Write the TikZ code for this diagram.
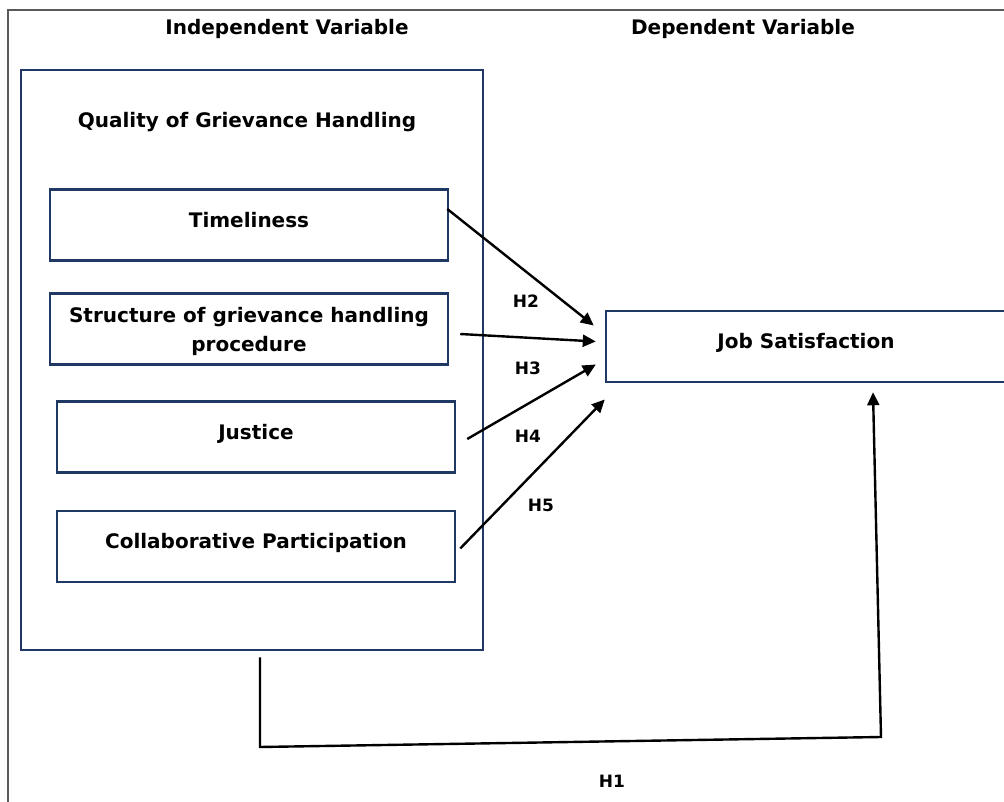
\documentclass[tikz,border=0pt]{standalone}
\usepackage{fontspec}
\setmainfont{DejaVu Sans}
\usetikzlibrary{arrows.meta, positioning, calc}
\definecolor{boxnavy}{HTML}{1F3864}
\definecolor{framegray}{HTML}{595959}
\tikzset{
    heading/.style={font=\fontsize{20}{29}\selectfont\bfseries},
    varbox/.style={draw=boxnavy, line width=2.5pt, minimum width=398pt, minimum height=71pt, align=center, text depth=11pt, heading},
    hyp/.style={-{Triangle[length=13pt, width=12pt]}, line width=2.4pt},
    hyplabel/.style={font=\fontsize{17}{20}\selectfont\bfseries}
}

\begin{document}
\begin{tikzpicture}[x=1pt, y=-1pt]
    \useasboundingbox (0,0) rectangle (1004,802);
    \clip (0,0) rectangle (1004,802);
    % Frame
    \draw[framegray, line width=2pt] (1004,10) -- (8,10) -- (8,802);
    % Headings
    \node[heading] (indep) at (287,29) {Independent Variable};
    \node[heading] (dep) at (743,29) {Dependent Variable};
    % Independent variable box
    \node[draw=boxnavy, line width=2.5pt, minimum width=462pt, minimum height=580pt] (qgh) at (252,360) {};
    \node[heading] (qghtitle) at (247,122) {Quality of Grievance Handling};
    \node[varbox] (time) at (249,225) {Timeliness};
    \node[varbox, text depth=0pt] (struct) at (249,329) {Structure of grievance handling\\procedure};
    \node[varbox] (just) at (256,437) {Justice};
    \node[varbox] (collab) at (256,546.5) {Collaborative Participation};
    % Dependent variable box
    \node[varbox, minimum width=400pt] (js) at (806,346.5) {Job Satisfaction};
    % Hypotheses H2--H5
    \draw[hyp] ($(time.east)+(-2,-16)$) -- ($(js.west)+(-11,-21)$);
    \draw[hyp] ($(struct.east)+(11,5)$) -- ($(js.west)+(-9,-5)$);
    \draw[hyp] ($(just.east)+(11,2)$) -- ($(js.west)+(-9,18)$);
    \draw[hyp] ($(collab.east)+(4,2)$) -- ($(js.west)+(0,53)$);
    \node[hyplabel] (h2) at (526,301) {H2};
    \node[hyplabel] (h3) at (528,368) {H3};
    \node[hyplabel] (h4) at (528,436) {H4};
    \node[hyplabel] (h5) at (541,505) {H5};
    % Hypothesis H1
    \draw[hyp] ($(qgh.south)+(8,6)$) -- (260,747) -- (881,737) -- ($(js.south)+(67,9)$);
    \node[hyplabel] (h1) at (612,781) {H1};
\end{tikzpicture}
\end{document}
